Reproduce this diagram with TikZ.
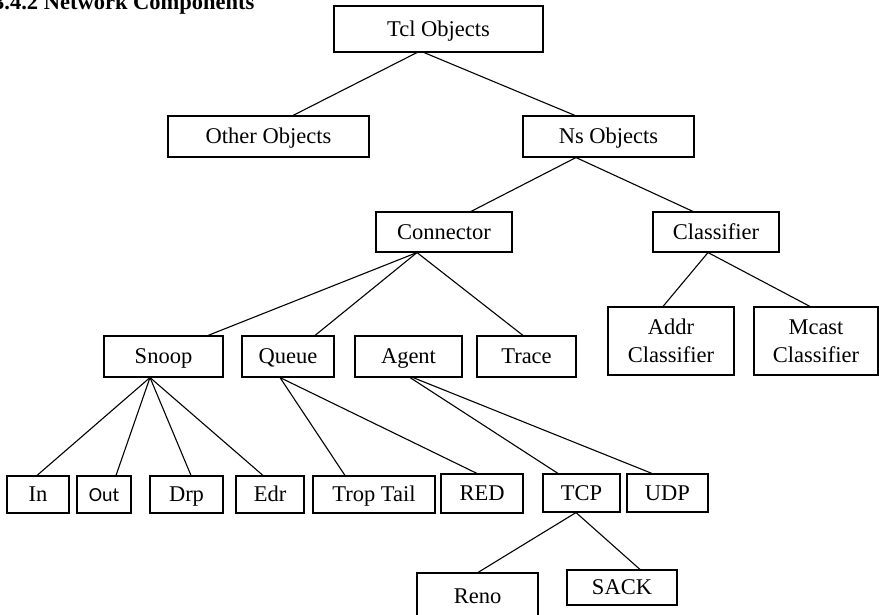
\documentclass[tikz,border=0pt]{standalone}
\usepackage{fontspec}
\setmainfont{Liberation Serif}
\newfontfamily\outfont{Carlito}

\begin{document}
\begin{tikzpicture}[x=1pt,y=1pt,yscale=-1,xscale=1,
  box/.style={draw=black,line width=1.1pt,inner sep=1pt,font=\fontsize{22.5}{28}\selectfont,align=center},
  leaf/.style={box,text height=15pt,text depth=0.5pt},
  link/.style={line width=1.1pt,color=black}]

\useasboundingbox (0,0) rectangle (879,615);

% Title
\node [anchor=base west,inner sep=0pt,font=\fontsize{22.5}{27}\selectfont\bfseries] (title) at (-7,9.5) {3.4.2 Network Components};

% Text Node
\node [leaf,minimum width=209,minimum height=46] (tcl) at (438.5,29) {Tcl Objects};
\node [leaf,minimum width=201,minimum height=41] (other) at (268.5,136.5) {Other Objects};
\node [leaf,minimum width=171,minimum height=41] (ns) at (608.5,136.5) {Ns Objects};
\node [leaf,minimum width=136,minimum height=40] (conn) at (444,232) {Connector};
\node [leaf,minimum width=126,minimum height=40] (classif) at (716,232) {Classifier};
\node [box,minimum width=126,minimum height=68] (addr) at (671,341) {Addr\\Classifier};
\node [box,minimum width=124,minimum height=68] (mcast) at (816,341) {Mcast\\Classifier};

\node [leaf,minimum width=119,minimum height=41] (snoop) at (163.5,356.5) {Snoop};
\node [leaf,minimum width=92,minimum height=41] (queue) at (288,356.5) {Queue};
\node [leaf,minimum width=107,minimum height=41] (agent) at (408.5,356.5) {Agent};
\node [leaf,minimum width=99,minimum height=41] (trace) at (526.5,356.5) {Trace};

\node [leaf,minimum width=62,minimum height=37] (in) at (38,494.5) {In};
\node [leaf,minimum width=54,minimum height=37,font=\outfont\fontsize{20}{24}\selectfont] (out) at (104,494.5) {Out};
\node [leaf,minimum width=73,minimum height=37] (drp) at (186.5,494.5) {Drp};
\node [leaf,minimum width=68,minimum height=37] (edr) at (270,494.5) {Edr};
\node [leaf,minimum width=122,minimum height=37] (trop) at (374,494.5) {Trop Tail};
\node [leaf,minimum width=82,minimum height=39] (red) at (482,493.5) {RED};
\node [leaf,minimum width=77,minimum height=38] (tcp) at (581.5,493) {TCP};
\node [leaf,minimum width=81,minimum height=38] (udp) at (667.5,493) {UDP};

\node [leaf,minimum width=121,minimum height=46] (reno) at (477.5,596) {Reno};
\node [leaf,minimum width=110,minimum height=35] (sack) at (622,587.5) {SACK};

% Links
\draw [link] ([xshift=-21.5pt]tcl.south) -- ([xshift=24.5pt]other.north);
\draw [link] ([xshift=-14.5pt]tcl.south) -- ([xshift=-33.5pt]ns.north);
\draw [link] ([xshift=-32.5pt]ns.south) -- ([xshift=27pt]conn.north);
\draw [link] ([xshift=-32.5pt]ns.south) -- ([xshift=-23pt]classif.north);
\draw [link] ([xshift=-8pt]classif.south) -- ([xshift=-8pt]addr.north);
\draw [link] ([xshift=-8pt]classif.south) -- ([xshift=-6pt]mcast.north);

\draw [link] ([xshift=-27pt]conn.south) -- ([xshift=44.5pt]snoop.north);
\draw [link] ([xshift=-27pt]conn.south) -- ([xshift=27pt]queue.north);
\draw [link] ([xshift=-27pt]conn.south) -- ([xshift=-3.5pt]trace.north);

\draw [link] ([xshift=-13.5pt]snoop.south) -- ([xshift=-1pt]in.north);
\draw [link] ([xshift=-13.5pt]snoop.south) -- ([xshift=12pt]out.north);
\draw [link] ([xshift=-13.5pt]snoop.south) -- ([xshift=4.5pt]drp.north);
\draw [link] ([xshift=-13.5pt]snoop.south) -- ([xshift=-7pt]edr.north);

\draw [link] ([xshift=-8pt]queue.south) -- ([xshift=-29pt]trop.north);
\draw [link] ([xshift=-8pt]queue.south) -- ([xshift=-5pt]red.north);

\draw [link] ([xshift=1.5pt]agent.south) -- ([xshift=-23.5pt]tcp.north);
\draw [link] ([xshift=4.5pt]agent.south) -- ([xshift=-15.5pt]udp.north);

\draw [link] ([xshift=-5.5pt]tcp.south) -- ([xshift=0.5pt]reno.north);
\draw [link] ([xshift=-5.5pt]tcp.south) -- ([xshift=18pt]sack.north);

\end{tikzpicture}
\end{document}
